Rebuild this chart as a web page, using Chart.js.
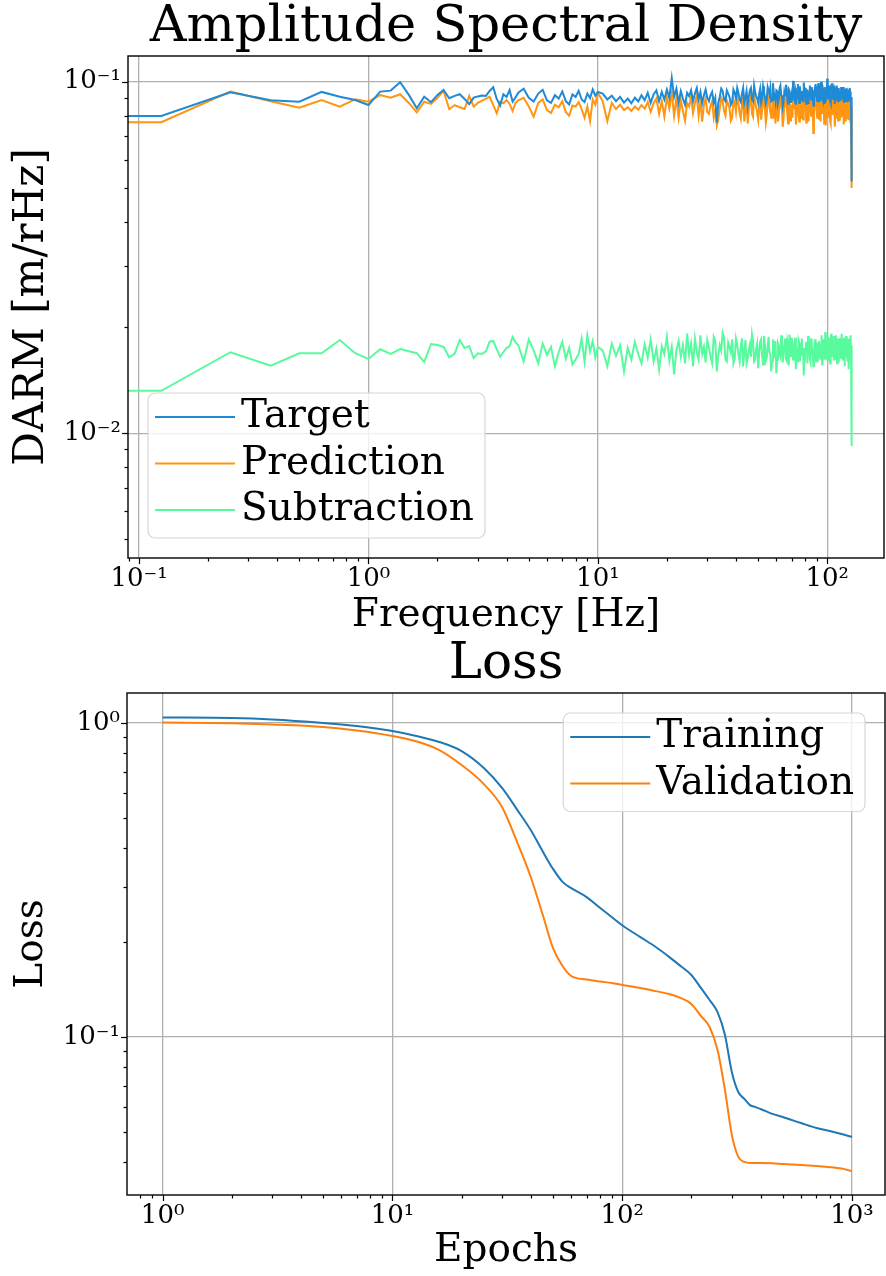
<!DOCTYPE html>
<html>
<head>
<meta charset="utf-8">
<script src="https://cdn.jsdelivr.net/npm/chart.js@4.4.0/dist/chart.umd.min.js"></script>
<style>
  html, body { margin: 0; padding: 0; background: #fff; }
  #wrap { width: 886px; height: 1276px; }
  canvas { display: block; }
</style>
</head>
<body>
<div id="wrap">
  <canvas id="asd" width="886" height="640"></canvas>
  <canvas id="loss" width="886" height="636"></canvas>
</div>
<script>
// ---- Amplitude spectral density (first point stands in for the DC bin) ----
const freq = [
  0.05, 0.125, 0.25, 0.375, 0.5, 0.625, 0.75, 0.875, 1, 1.125, 1.25, 1.375, 1.5, 1.625, 1.75, 1.875,
  2, 2.125, 2.25, 2.375, 2.5, 2.625, 2.75, 2.875, 3, 3.125, 3.25, 3.375, 3.5, 3.625, 3.75, 3.875,
  4, 4.125, 4.25, 4.375,
  4.5, 4.75, 5, 5.25, 5.5, 5.75, 6, 6.25, 6.5, 6.75, 7, 7.25, 7.5, 7.75, 8, 8.25, 8.5, 8.75,
  9, 9.25, 9.5, 9.75, 10,
  10.5, 11, 11.5, 12, 12.5, 13, 13.5, 14, 14.5, 15, 15.5, 16, 16.5, 17, 17.5, 18, 18.5, 19, 19.5, 20,
  20.5, 21, 21.5, 22, 22.5, 23, 23.5, 24, 24.5, 25, 25.5, 26, 26.5, 27, 27.5, 28, 28.5, 29, 29.5, 30,
  30.5, 31, 31.5, 32, 32.5, 33, 33.5, 34, 34.5, 35, 35.5, 36, 36.5, 37, 37.5, 38, 38.5, 39, 39.5, 40,
  40.5, 41, 41.5, 42, 42.5, 43, 43.5, 44, 44.5, 45, 45.5, 46, 46.5, 47, 47.5, 48, 48.5, 49, 49.5, 50,
  50.5, 51, 51.5, 52, 52.5, 53, 53.5, 54, 54.5, 55, 55.5, 56, 56.5, 57, 57.5, 58, 58.5, 59, 59.5, 60,
  60.5, 61, 61.5, 62, 62.5, 63, 63.5, 64, 64.5, 65, 65.5, 66, 66.5, 67, 67.5, 68, 68.5, 69, 69.5, 70,
  70.5, 71, 71.5, 72, 72.5, 73, 73.5, 74, 74.5, 75, 75.5, 76, 76.5, 77, 77.5, 78, 78.5, 79, 79.5, 80,
  80.5, 81, 81.5, 82, 82.5, 83, 83.5, 84, 84.5, 85, 85.5, 86, 86.5, 87, 87.5, 88, 88.5, 89, 89.5, 90,
  90.5, 91, 91.5, 92, 92.5, 93, 93.5, 94, 94.5, 95, 95.5, 96, 96.5, 97, 97.5, 98, 98.5, 99, 99.5, 100,
  100.5, 101, 101.5, 102, 102.5, 103, 103.5, 104, 104.5, 105, 105.5, 106, 106.5, 107, 107.5, 108, 108.5, 109, 109.5, 110,
  110.5, 111, 111.5, 112, 112.5, 113, 113.5, 114, 114.5, 115, 115.5, 116, 116.5, 117, 117.5, 118, 118.5, 119, 119.5, 120,
  120.5, 121, 121.5, 122, 122.5, 123, 123.5, 124, 124.5, 125, 125.5, 126, 126.5, 127,
  127.5, 128
];

const asdTarget = [
  0.0799, 0.0799, 0.0933, 0.0885, 0.0877, 0.0935, 0.0906, 0.0887, 0.0858, 0.0937, 0.0943, 0.0996,
  0.0917, 0.0840, 0.0906, 0.0874, 0.0917, 0.0947, 0.0897, 0.0911, 0.0921, 0.0893, 0.0863, 0.0901,
  0.0908, 0.0913, 0.0911, 0.0941, 0.0964, 0.0893, 0.0855, 0.0921, 0.0905, 0.0947, 0.0877, 0.0902,
  0.0930, 0.0955, 0.0900, 0.0878, 0.0925, 0.0948, 0.0885, 0.0870, 0.0915, 0.0895, 0.0938, 0.0880,
  0.0862, 0.0920, 0.0905, 0.0942, 0.0890, 0.0875, 0.0925, 0.0898, 0.0950, 0.0912, 0.0935,
  0.0925, 0.0890, 0.0912, 0.0880, 0.0905, 0.0872, 0.0895, 0.0868, 0.0900, 0.0878,
  0.0915, 0.0885, 0.0930, 0.0870, 0.0920, 0.0945, 0.0880, 0.0935, 0.0890, 0.0950,
  0.0900, 0.1025, 0.0905, 0.0955, 0.0870, 0.0940, 0.0895, 0.0860, 0.0930, 0.0910,
  0.0945, 0.0880, 0.0925, 0.0960, 0.0890, 0.0935, 0.0868, 0.0915, 0.0950, 0.0900,
  0.0880, 0.0915, 0.0935, 0.0870, 0.0900, 0.0765, 0.0870, 0.0905, 0.0955, 0.0940,
  0.0890, 0.0880, 0.0945, 0.0925, 0.0905, 0.0860, 0.0875, 0.0950, 0.0930, 0.0895,
  0.0960, 0.0930, 0.0890, 0.0875, 0.0925, 0.0960, 0.0870, 0.0900, 0.0940, 0.0855,
  0.0905, 0.0945, 0.0960, 0.0890, 0.0880, 0.0975, 0.0935, 0.0910, 0.0895, 0.0870,
  0.0925, 0.0955, 0.0875, 0.0900, 0.0970, 0.0935, 0.0905, 0.0865, 0.0890, 0.0965,
  0.0945, 0.0920, 0.0960, 0.0880, 0.0885, 0.0990, 0.0930, 0.0905, 0.0875, 0.0945,
  0.0940, 0.0870, 0.0890, 0.0960, 0.0975, 0.0915, 0.0905, 0.0850, 0.0880, 0.0935,
  0.0915, 0.0980, 0.0955, 0.0895, 0.0865, 0.0950, 0.0940, 0.0875, 0.0900, 0.0925,
  0.0880, 0.1005, 0.0960, 0.0910, 0.0935, 0.0860, 0.0895, 0.0955, 0.0985, 0.0900,
  0.0870, 0.0970, 0.0925, 0.0885, 0.0910, 0.0940, 0.0880, 0.0995, 0.0945, 0.0905,
  0.0960, 0.0865, 0.0890, 0.0950, 0.0870, 0.0920, 0.0935, 0.0975, 0.0915, 0.0890,
  0.0965, 0.0945, 0.0900, 0.0855, 0.0880, 0.0930, 0.0910, 0.0985, 0.0945, 0.0900,
  0.0880, 0.0960, 0.0990, 0.0875, 0.0905, 0.0935, 0.0880, 0.1000, 0.0960, 0.0910,
  0.0895, 0.0950, 0.0935, 0.0870, 0.0900, 0.0965, 0.0875, 0.0920, 0.0940, 0.1020,
  0.0955, 0.0895, 0.0910, 0.0955, 0.0975, 0.0880, 0.0870, 0.0940, 0.0925, 0.0990,
  0.0890, 0.0905, 0.0975, 0.0960, 0.0900, 0.0865, 0.0945, 0.0935, 0.0890, 0.0975,
  0.0930, 0.0900, 0.0880, 0.0950, 0.0960, 0.0885, 0.0905, 0.0940, 0.0885, 0.0965,
  0.0940, 0.0895, 0.0910, 0.0930, 0.0965, 0.0870, 0.0895, 0.0955, 0.0930, 0.0910,
  0.0875, 0.0945, 0.0960, 0.0880, 0.0905, 0.0925, 0.0885, 0.0950, 0.0930, 0.0890,
  0.0960, 0.0935, 0.0875, 0.0905,
  0.0890, 0.0520
];

const asdPrediction = [
  0.0767, 0.0767, 0.0937, 0.0880, 0.0843, 0.0887, 0.0849, 0.0891, 0.0877, 0.0916, 0.0900, 0.0921,
  0.0870, 0.0818, 0.0877, 0.0864, 0.0899, 0.0943, 0.0835, 0.0858, 0.0846, 0.0836, 0.0911, 0.0849,
  0.0870, 0.0883, 0.0893, 0.0906, 0.0858, 0.0813, 0.0877, 0.0868, 0.0887, 0.0864, 0.0825, 0.0870,
  0.0885, 0.0900, 0.0850, 0.0795, 0.0870, 0.0890, 0.0830, 0.0815, 0.0860, 0.0845, 0.0880, 0.0820,
  0.0800, 0.0855, 0.0850, 0.0875, 0.0835, 0.0790, 0.0850, 0.0772, 0.0890, 0.0860, 0.0930,
  0.0880, 0.0772, 0.0870, 0.0835, 0.0860, 0.0830, 0.0845, 0.0825, 0.0850, 0.0832,
  0.0858, 0.0838, 0.0875, 0.0820, 0.0868, 0.0895, 0.0810, 0.0880, 0.0795, 0.0905,
  0.0840, 0.0930, 0.0800, 0.0900, 0.0790, 0.0885, 0.0825, 0.0775, 0.0870, 0.0850,
  0.0905, 0.0815, 0.0870, 0.0915, 0.0800, 0.0880, 0.0770, 0.0860, 0.0895, 0.0820,
  0.0810, 0.0855, 0.0880, 0.0790, 0.0835, 0.0750, 0.0780, 0.0840, 0.0900, 0.0880,
  0.0825, 0.0800, 0.0885, 0.0865, 0.0840, 0.0775, 0.0790, 0.0890, 0.0870, 0.0820,
  0.0905, 0.0870, 0.0815, 0.0785, 0.0860, 0.0905, 0.0770, 0.0835, 0.0885, 0.0760,
  0.0830, 0.0880, 0.0910, 0.0810, 0.0795, 0.0925, 0.0875, 0.0845, 0.0815, 0.0780,
  0.0860, 0.0900, 0.0780, 0.0825, 0.0920, 0.0875, 0.0835, 0.0765, 0.0800, 0.0915,
  0.0890, 0.0850, 0.0905, 0.0790, 0.0790, 0.0940, 0.0870, 0.0830, 0.0760, 0.0890,
  0.0880, 0.0770, 0.0810, 0.0910, 0.0925, 0.0845, 0.0830, 0.0745, 0.0785, 0.0870,
  0.0850, 0.0935, 0.0900, 0.0805, 0.0760, 0.0895, 0.0885, 0.0775, 0.0820, 0.0860,
  0.0790, 0.0950, 0.0910, 0.0835, 0.0865, 0.0755, 0.0800, 0.0900, 0.0935, 0.0820,
  0.0770, 0.0920, 0.0860, 0.0790, 0.0845, 0.0880, 0.0780, 0.0945, 0.0890, 0.0830,
  0.0910, 0.0765, 0.0805, 0.0895, 0.0775, 0.0850, 0.0875, 0.0930, 0.0840, 0.0800,
  0.0915, 0.0885, 0.0820, 0.0715, 0.0790, 0.0865, 0.0850, 0.0940, 0.0895, 0.0815,
  0.0790, 0.0905, 0.0940, 0.0780, 0.0830, 0.0870, 0.0770, 0.0950, 0.0905, 0.0835,
  0.0810, 0.0895, 0.0880, 0.0760, 0.0825, 0.0915, 0.0750, 0.0850, 0.0885, 0.0960,
  0.0900, 0.0795, 0.0835, 0.0900, 0.0925, 0.0770, 0.0760, 0.0880, 0.0870, 0.0935,
  0.0805, 0.0820, 0.0925, 0.0910, 0.0815, 0.0745, 0.0890, 0.0875, 0.0790, 0.0925,
  0.0870, 0.0805, 0.0775, 0.0895, 0.0905, 0.0780, 0.0830, 0.0870, 0.0790, 0.0920,
  0.0885, 0.0800, 0.0845, 0.0865, 0.0910, 0.0755, 0.0800, 0.0900, 0.0875, 0.0830,
  0.0770, 0.0885, 0.0905, 0.0790, 0.0830, 0.0860, 0.0785, 0.0905, 0.0875, 0.0775,
  0.0900, 0.0870, 0.0760, 0.0820,
  0.0850, 0.0498
];

const asdSubtraction = [
  0.0132, 0.0132, 0.0170, 0.01557, 0.01689, 0.01689, 0.01842, 0.0169, 0.01627, 0.01734, 0.01682, 0.01735,
  0.0171, 0.01689, 0.01594, 0.01794, 0.01782, 0.0176, 0.01645, 0.01682, 0.01842, 0.01747, 0.0177, 0.01637,
  0.01689, 0.0168, 0.0171, 0.01822, 0.0183, 0.01735, 0.0165, 0.017, 0.01747, 0.0177, 0.01878, 0.01815,
  0.0178, 0.0160, 0.0185, 0.0172, 0.0158, 0.0180, 0.0167, 0.0176, 0.0155, 0.0170, 0.0182, 0.0163,
  0.0175, 0.0157, 0.0162, 0.0168, 0.0186, 0.0160, 0.0190, 0.0171, 0.0183, 0.0164, 0.0176,
  0.0172, 0.0155, 0.0180, 0.0166, 0.0178, 0.0150, 0.0175, 0.0162, 0.0182, 0.0168,
  0.0158, 0.0179, 0.0164, 0.0185, 0.0160, 0.0174, 0.0152, 0.0177, 0.0168, 0.0188,
  0.0161, 0.0176, 0.0147, 0.0172, 0.0183, 0.0165, 0.0178, 0.0158, 0.0192, 0.0167,
  0.0180, 0.0155, 0.0186, 0.0170, 0.0162, 0.0190, 0.0168, 0.0176, 0.0159, 0.0184,
  0.0175, 0.0165, 0.0158, 0.0188, 0.0183, 0.0150, 0.0166, 0.0178, 0.0172, 0.0193,
  0.0187, 0.0162, 0.0160, 0.0181, 0.0176, 0.0170, 0.0185, 0.0158, 0.0163, 0.0186,
  0.0179, 0.0168, 0.0160, 0.0176, 0.0186, 0.0155, 0.0170, 0.0184, 0.0158, 0.0163,
  0.0173, 0.0179, 0.0165, 0.0191, 0.0183, 0.0160, 0.0162, 0.0174, 0.0180, 0.0153,
  0.0169, 0.0182, 0.0185, 0.0167, 0.0157, 0.0189, 0.0179, 0.0161, 0.0164, 0.0177,
  0.0188, 0.0170, 0.0167, 0.0150, 0.0160, 0.0185, 0.0178, 0.0164, 0.0183, 0.0148,
  0.0162, 0.0180, 0.0177, 0.0168, 0.0165, 0.0190, 0.0181, 0.0159, 0.0170, 0.0175,
  0.0186, 0.0163, 0.0161, 0.0183, 0.0178, 0.0156, 0.0191, 0.0172, 0.0165, 0.0187,
  0.0180, 0.0162, 0.0168, 0.0178, 0.0187, 0.0152, 0.0175, 0.0169, 0.0159, 0.0184,
  0.0181, 0.0160, 0.0170, 0.0176, 0.0186, 0.0166, 0.0175, 0.0146, 0.0161, 0.0174,
  0.0169, 0.0182, 0.0177, 0.0158, 0.0189, 0.0171, 0.0175, 0.0163, 0.0160, 0.0186,
  0.0182, 0.0168, 0.0173, 0.0155, 0.0166, 0.0179, 0.0185, 0.0165, 0.0160, 0.0173,
  0.0181, 0.0160, 0.0167, 0.0183, 0.0178, 0.0169, 0.0162, 0.0177, 0.0190, 0.0157,
  0.0166, 0.0185, 0.0180, 0.0171, 0.0162, 0.0194, 0.0179, 0.0163, 0.0170, 0.0188,
  0.0183, 0.0166, 0.0160, 0.0179, 0.0187, 0.0158, 0.0171, 0.0192, 0.0181, 0.0170,
  0.0165, 0.0184, 0.0189, 0.0161, 0.0171, 0.0176, 0.0163, 0.0190, 0.0182, 0.0167,
  0.0158, 0.0181, 0.0186, 0.0159, 0.0170, 0.0174, 0.0163, 0.0187, 0.0180, 0.0164,
  0.0192, 0.0178, 0.0161, 0.0168, 0.0175, 0.0183, 0.0187, 0.0155, 0.0170, 0.0176,
  0.0165, 0.0189, 0.0178, 0.0166, 0.0160, 0.0180, 0.0186, 0.0152, 0.0170, 0.0175,
  0.0164, 0.0185, 0.0190, 0.0168,
  0.0178, 0.0092
];

const asdFreqTicks = [0.1, 1, 10, 100];
const asdFreqLabels = ["10⁻¹", "10⁰", "10¹", "10²"];
const asdFreqMinor = [0.09, 0.2, 0.3, 0.4, 0.5, 0.6, 0.7, 0.8, 0.9, 2, 3, 4, 5, 6, 7, 8, 9,
  20, 30, 40, 50, 60, 70, 80, 90];
const asdAmpTicks = [0.01, 0.1];
const asdAmpLabels = ["10⁻²", "10⁻¹"];
const asdAmpMinor = [0.005, 0.006, 0.007, 0.008, 0.009, 0.02, 0.03, 0.04, 0.05, 0.06, 0.07, 0.08, 0.09];

// ---- Loss history ----
const epochs = [1, 2, 3, 5, 7, 10, 13, 16, 20, 25, 30, 35, 40, 45, 50, 55, 60, 70, 80, 90,
  100, 120, 140, 160, 180, 200, 220, 240, 260, 280, 300, 320, 340, 360, 380, 400, 450, 500,
  600, 700, 800, 900, 1000];
const trainLoss = [1.041, 1.037, 1.026, 1.000, 0.978, 0.943, 0.906, 0.870, 0.814, 0.719,
  0.621, 0.528, 0.456, 0.391, 0.343, 0.312, 0.298, 0.279, 0.258, 0.241,
  0.227, 0.208, 0.1935, 0.180, 0.168, 0.1576, 0.1433, 0.1312, 0.120, 0.1015,
  0.0774, 0.0668, 0.0635, 0.0607, 0.0598, 0.0590, 0.0569, 0.0556, 0.0532, 0.0513,
  0.0502, 0.0491, 0.0480];
const valLoss = [1.004, 0.998, 0.989, 0.971, 0.9465, 0.909, 0.870, 0.820, 0.735, 0.639,
  0.540, 0.415, 0.3233, 0.2463, 0.192, 0.1683, 0.1564, 0.1524, 0.1502, 0.1486,
  0.1465, 0.1433, 0.140, 0.137, 0.133, 0.1274, 0.1167, 0.1076, 0.0909, 0.0678,
  0.0488, 0.0415, 0.0400, 0.0397, 0.0397, 0.0397, 0.0396, 0.0394, 0.0391, 0.0388,
  0.0385, 0.0381, 0.0374];

const epochTicks = [1, 10, 100, 1000];
const epochLabels = ["10⁰", "10¹", "10²", "10³"];
const epochMinor = [0.8, 0.9, 2, 3, 4, 5, 6, 7, 8, 9, 20, 30, 40, 50, 60, 70, 80, 90,
  200, 300, 400, 500, 600, 700, 800, 900];
const lossTicks = [0.1, 1];
const lossLabels = ["10⁻¹", "10⁰"];
const lossMinor = [0.04, 0.05, 0.06, 0.07, 0.08, 0.09, 0.2, 0.3, 0.4, 0.5, 0.6, 0.7, 0.8, 0.9];

const SERIF = "'DejaVu Serif', serif";
Chart.defaults.font.family = SERIF;
Chart.defaults.color = "#000";

const pairs = (xs, ys) => xs.map((x, i) => ({ x: x, y: ys[i] }));

function logAxis(o) {
  return {
    type: "logarithmic",
    min: o.min,
    max: o.max,
    afterBuildTicks: (scale) => {
      scale.ticks = o.major.map((v) => ({ value: v, major: true }))
        .concat(o.minor.map((v) => ({ value: v, major: false })))
        .sort((a, b) => a.value - b.value);
    },
    afterFit: (scale) => {
      if (scale.isHorizontal()) scale.height = o.size;
      else scale.width = o.size;
    },
    ticks: {
      autoSkip: false,
      maxRotation: 0,
      padding: o.tickPad,
      font: { size: 26 },
      callback: (v) => {
        const k = o.major.indexOf(v);
        return k < 0 ? "" : o.labels[k];
      },
    },
    grid: {
      color: (c) => (c.tick && c.tick.major ? "#b0b0b0" : "rgba(0,0,0,0)"),
      lineWidth: 1.3,
      drawTicks: false,
    },
    border: { display: false },
    title: { display: true, text: o.title, font: { size: o.titleSize || 39 }, padding: o.titlePad },
  };
}

// black frame round the plot plus matplotlib-style outward tick marks
const framePlugin = {
  id: "frame",
  afterDraw(chart) {
    const { ctx, chartArea: a } = chart;
    ctx.save();
    ctx.strokeStyle = "#000";
    ctx.lineWidth = 1.2;
    for (const id of ["x", "y"]) {
      const s = chart.scales[id];
      for (const t of s.ticks) {
        const len = t.major ? 6 : 3.5;
        const p = Math.round(s.getPixelForValue(t.value)) + 0.5;
        ctx.beginPath();
        if (id === "x") {
          ctx.moveTo(p, a.bottom);
          ctx.lineTo(p, a.bottom + len);
        } else {
          ctx.moveTo(a.left, p);
          ctx.lineTo(a.left - len, p);
        }
        ctx.stroke();
      }
    }
    ctx.lineWidth = 1.4;
    ctx.strokeRect(a.left, a.top, a.right - a.left, a.bottom - a.top);
    ctx.restore();
  },
};

// legend box drawn inside the plot area
const legendPlugin = {
  id: "boxLegend",
  afterDatasetsDraw(chart, args, opts) {
    const { ctx, chartArea: a } = chart;
    const items = chart.data.datasets;
    ctx.save();
    ctx.font = "39px " + SERIF;
    const textW = Math.max(...items.map((d) => ctx.measureText(d.label).width));
    const w = 7 + 80 + 6 + textW + 11;
    const h = 24 + (items.length - 1) * 46.5 + 28;
    const x = opts.corner === "upper right" ? a.right - 20 - w : a.left + 20;
    const y = opts.corner === "upper right" ? a.top + 20 : a.bottom - 20 - h;
    ctx.beginPath();
    ctx.roundRect(x, y, w, h, 7);
    ctx.fillStyle = "rgba(255,255,255,0.8)";
    ctx.fill();
    ctx.strokeStyle = "#d6d6d6";
    ctx.lineWidth = 1.2;
    ctx.stroke();
    items.forEach((d, i) => {
      const ry = y + 24 + i * 46.5;
      ctx.beginPath();
      ctx.moveTo(x + 7, ry);
      ctx.lineTo(x + 87, ry);
      ctx.strokeStyle = d.borderColor;
      ctx.lineWidth = 2;
      ctx.stroke();
      ctx.fillStyle = "#000";
      ctx.textBaseline = "middle";
      ctx.fillText(d.label, x + 93, ry);
    });
    ctx.restore();
  },
};

new Chart(document.getElementById("asd"), {
  type: "line",
  data: {
    datasets: [
      { label: "Target", data: pairs(freq, asdTarget), borderColor: "#1f8ad6", borderWidth: 2 },
      { label: "Prediction", data: pairs(freq, asdPrediction), borderColor: "#ff9510", borderWidth: 2 },
      { label: "Subtraction", data: pairs(freq, asdSubtraction), borderColor: "#58fa9e", borderWidth: 2 },
    ],
  },
  options: {
    responsive: false,
    animation: false,
    devicePixelRatio: 1,
    elements: { point: { radius: 0 }, line: { tension: 0 } },
    layout: { padding: { left: 0, right: 2, top: 0, bottom: 0 } },
    plugins: {
      legend: { display: false },
      tooltip: { enabled: false },
      title: {
        display: true,
        fullSize: false,
        text: "Amplitude Spectral Density",
        font: { size: 51, weight: "normal", lineHeight: "56px" },
        padding: 0,
      },
      boxLegend: { corner: "lower left" },
    },
    scales: {
      x: logAxis({ min: 0.0895, max: 176.8, major: asdFreqTicks, minor: asdFreqMinor,
        labels: asdFreqLabels, title: "Frequency [Hz]", size: 82, tickPad: 6,
        titlePad: { top: 0, bottom: 1 } }),
      y: logAxis({ min: 0.004418, max: 0.1183, major: asdAmpTicks, minor: asdAmpMinor,
        labels: asdAmpLabels, title: "DARM [m/rHz]", titleSize: 42, size: 128, tickPad: 7,
        titlePad: { top: 7, bottom: 0 } }),
    },
  },
  plugins: [framePlugin, legendPlugin],
});

new Chart(document.getElementById("loss"), {
  type: "line",
  data: {
    datasets: [
      { label: "Training", data: pairs(epochs, trainLoss), borderColor: "#1f77b4", borderWidth: 2,
        cubicInterpolationMode: "monotone" },
      { label: "Validation", data: pairs(epochs, valLoss), borderColor: "#ff7f0e", borderWidth: 2,
        cubicInterpolationMode: "monotone" },
    ],
  },
  options: {
    responsive: false,
    animation: false,
    devicePixelRatio: 1,
    elements: { point: { radius: 0 } },
    layout: { padding: { left: 0, right: 1, top: 0, bottom: 0 } },
    plugins: {
      legend: { display: false },
      tooltip: { enabled: false },
      title: {
        display: true,
        fullSize: false,
        text: "Loss",
        font: { size: 50, weight: "normal", lineHeight: "50px" },
        padding: { top: 0, bottom: 3 },
      },
      boxLegend: { corner: "upper right" },
    },
    scales: {
      x: logAxis({ min: 0.704, max: 1392, major: epochTicks, minor: epochMinor,
        labels: epochLabels, title: "Epochs", size: 81, tickPad: 6,
        titlePad: { top: 0, bottom: 2 } }),
      y: logAxis({ min: 0.03139, max: 1.246, major: lossTicks, minor: lossMinor,
        labels: lossLabels, title: "Loss", size: 127, tickPad: 7,
        titlePad: { top: 8, bottom: 0 } }),
    },
  },
  plugins: [framePlugin, legendPlugin],
});
</script>
</body>
</html>
